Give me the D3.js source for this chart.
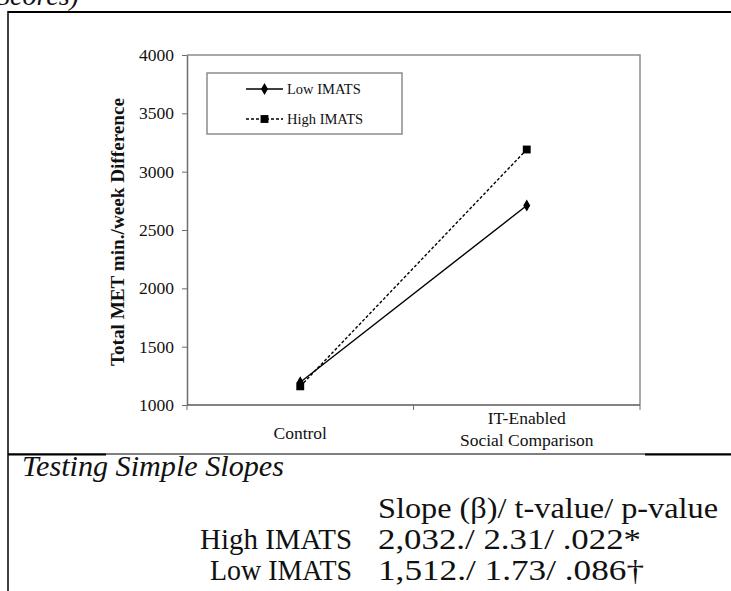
<!DOCTYPE html>
<html>
<head>
<meta charset="utf-8">
<script src="https://cdn.jsdelivr.net/npm/d3@7"></script>
<style>
  html, body { margin: 0; padding: 0; background: #fff; }
  svg text { font-family: 'Liberation Serif', 'Times New Roman', serif; }
</style>
</head>
<body>
<div id="chart"></div>
<script>
// data
const categories = ['Control', 'IT-Enabled\nSocial Comparison'];
const lowIMATS = [1195, 2710];
const highIMATS = [1160, 3190];
const yTicks = [1000, 1500, 2000, 2500, 3000, 3500, 4000];
const seriesNames = ['Low IMATS', 'High IMATS'];

const slopeHeader = 'Slope (β)/ t-value/ p-value';
const slopeGroups = ['High IMATS', 'Low IMATS'];
const slopeValues = ['2,032./ 2.31/ .022*', '1,512./ 1.73/ .086†'];

const FONT = 'Liberation Serif';
const width = 731;
const height = 591;
const plot = { left: 187, right: 640, top: 55, bottom: 405 };

const svg = d3.select('#chart')
  .append('svg')
  .attr('width', width)
  .attr('height', height);

svg.append('rect')
  .attr('width', width)
  .attr('height', height)
  .attr('fill', '#fff');

// scales
const x = d3.scaleBand()
  .domain(categories)
  .range([plot.left, plot.right]);

const y = d3.scaleLinear()
  .domain([1000, 4000])
  .range([plot.bottom, plot.top]);

// frame (top + right)
svg.append('path')
  .attr('d', `M${plot.left},${plot.top}H${plot.right}V${plot.bottom}`)
  .attr('fill', 'none')
  .attr('stroke', '#8c8c8c')
  .attr('stroke-width', 1.5);

// y axis
svg.append('g')
  .attr('transform', `translate(${plot.left},0)`)
  .call(d3.axisLeft(y).tickValues(yTicks).tickFormat(d3.format('d'))
    .tickSize(5).tickSizeOuter(0).tickPadding(8))
  .call((g) => g.select('.domain').attr('stroke', '#6e6e6e').attr('stroke-width', 1.5))
  .call((g) => g.selectAll('.tick line').attr('stroke', '#6e6e6e'))
  .call((g) => g.selectAll('.tick text')
    .attr('font-family', FONT)
    .attr('font-size', 17.5)
    .attr('fill', '#111'));

// x axis (ticks between categories)
const xTicks = [plot.left, ...categories.slice(1).map((c) => x(c)), plot.right];
svg.append('line')
  .attr('x1', plot.left)
  .attr('x2', plot.right)
  .attr('y1', plot.bottom)
  .attr('y2', plot.bottom)
  .attr('stroke', '#5a5a5a')
  .attr('stroke-width', 1.5);

svg.append('g')
  .selectAll('line')
  .data(xTicks)
  .join('line')
  .attr('x1', (d) => d)
  .attr('x2', (d) => d)
  .attr('y1', plot.bottom)
  .attr('y2', plot.bottom + 5)
  .attr('stroke', '#6e6e6e');

svg.append('g')
  .selectAll('text')
  .data(categories)
  .join('text')
  .attr('x', (d) => x(d) + x.bandwidth() / 2)
  .attr('text-anchor', 'middle')
  .attr('font-family', FONT)
  .attr('font-size', 17.5)
  .attr('fill', '#111')
  .each(function (d) {
    const lines = d.split('\n');
    const t = d3.select(this);
    const y0 = lines.length > 1 ? 424 : 439;
    lines.forEach((l, i) => {
      t.append('tspan').attr('x', x(d) + x.bandwidth() / 2).attr('y', y0 + i * 22).text(l);
    });
  });

// y title
svg.append('text')
  .attr('transform', 'translate(124,232) rotate(-90)')
  .attr('text-anchor', 'middle')
  .attr('font-family', FONT)
  .attr('font-size', 18)
  .attr('font-weight', 'bold')
  .attr('fill', '#111')
  .attr('textLength', 268)
  .attr('lengthAdjust', 'spacingAndGlyphs')
  .text('Total MET min./week Difference');

// series
const series = [
  { name: seriesNames[0], values: lowIMATS, dash: null, symbol: d3.symbolDiamond, size: 42 },
  { name: seriesNames[1], values: highIMATS, dash: '3,2', symbol: d3.symbolSquare, size: 62 },
];

const line = d3.line()
  .x((d, i) => x(categories[i]) + x.bandwidth() / 2)
  .y((d) => y(d));

const gSeries = svg.append('g')
  .selectAll('g')
  .data(series)
  .join('g');

gSeries.append('path')
  .attr('d', (d) => line(d.values))
  .attr('fill', 'none')
  .attr('stroke', '#000')
  .attr('stroke-width', 1.4)
  .attr('stroke-dasharray', (d) => d.dash);

gSeries.selectAll('path.marker')
  .data((d) => d.values.map((v, i) => ({ v, i, s: d })))
  .join('path')
  .attr('class', 'marker')
  .attr('transform', (d) => `translate(${x(categories[d.i]) + x.bandwidth() / 2},${y(d.v)})`)
  .attr('d', (d) => d3.symbol(d.s.symbol, d.s.size)())
  .attr('fill', '#000');

// legend
const legend = svg.append('g');
legend.append('rect')
  .attr('x', 207)
  .attr('y', 73)
  .attr('width', 195)
  .attr('height', 61)
  .attr('fill', '#fff')
  .attr('stroke', '#8c8c8c')
  .attr('stroke-width', 1.5);

const legendItems = legend.selectAll('g')
  .data(series)
  .join('g')
  .attr('transform', (d, i) => `translate(246,${89 + i * 30})`);

legendItems.append('line')
  .attr('x1', 0)
  .attr('x2', 37)
  .attr('stroke', '#000')
  .attr('stroke-width', 1.4)
  .attr('stroke-dasharray', (d) => d.dash);

legendItems.append('path')
  .attr('transform', 'translate(18.5,0)')
  .attr('d', (d) => d3.symbol(d.symbol, d.size)())
  .attr('fill', '#000');

legendItems.append('text')
  .attr('x', 41)
  .attr('dy', '0.35em')
  .attr('font-family', FONT)
  .attr('font-size', 14.5)
  .attr('fill', '#111')
  .text((d) => d.name);

// table borders
svg.append('line')
  .attr('x1', 8).attr('x2', width).attr('y1', 12).attr('y2', 12)
  .attr('stroke', '#000').attr('stroke-width', 2);
svg.append('line')
  .attr('x1', 8).attr('x2', 8).attr('y1', 11).attr('y2', height)
  .attr('stroke', '#000').attr('stroke-width', 1.5);
svg.append('line')
  .attr('x1', 8).attr('x2', width).attr('y1', 454).attr('y2', 454)
  .attr('stroke', '#000').attr('stroke-width', 1.2);
svg.append('line')
  .attr('x1', 645).attr('x2', width).attr('y1', 454.5).attr('y2', 454.5)
  .attr('stroke', '#000').attr('stroke-width', 2);
svg.append('line')
  .attr('x1', 8).attr('x2', 106).attr('y1', 454.5).attr('y2', 454.5)
  .attr('stroke', '#000').attr('stroke-width', 1.8);

// caption of the row above, cut by the page edge as in the source
svg.append('text')
  .attr('x', -4)
  .attr('y', 5)
  .attr('font-family', FONT)
  .attr('font-size', 28)
  .attr('font-style', 'italic')
  .attr('fill', '#111')
  .text('Scores)');

// simple slopes text (widths matched to the source)
const tableText = (sel, len) => sel
  .attr('font-family', FONT)
  .attr('font-size', 29)
  .attr('fill', '#111')
  .attr('textLength', len)
  .attr('lengthAdjust', 'spacingAndGlyphs');

svg.append('text')
  .attr('x', 22)
  .attr('y', 476)
  .attr('font-style', 'italic')
  .call(tableText, 262)
  .text('Testing Simple Slopes');

svg.append('text')
  .attr('x', 378)
  .attr('y', 518)
  .call(tableText, 340)
  .text(slopeHeader);

svg.append('g')
  .selectAll('text')
  .data(slopeGroups)
  .join('text')
  .attr('x', (d, i) => [200, 210][i])
  .attr('y', (d, i) => 549 + i * 31)
  .each(function (d, i) { d3.select(this).call(tableText, [152, 142][i]); })
  .text((d) => d);

svg.append('g')
  .selectAll('text')
  .data(slopeValues)
  .join('text')
  .attr('x', 378)
  .attr('y', (d, i) => 549 + i * 31)
  .each(function (d, i) { d3.select(this).call(tableText, [263, 266][i]); })
  .text((d) => d);
</script>
</body>
</html>
